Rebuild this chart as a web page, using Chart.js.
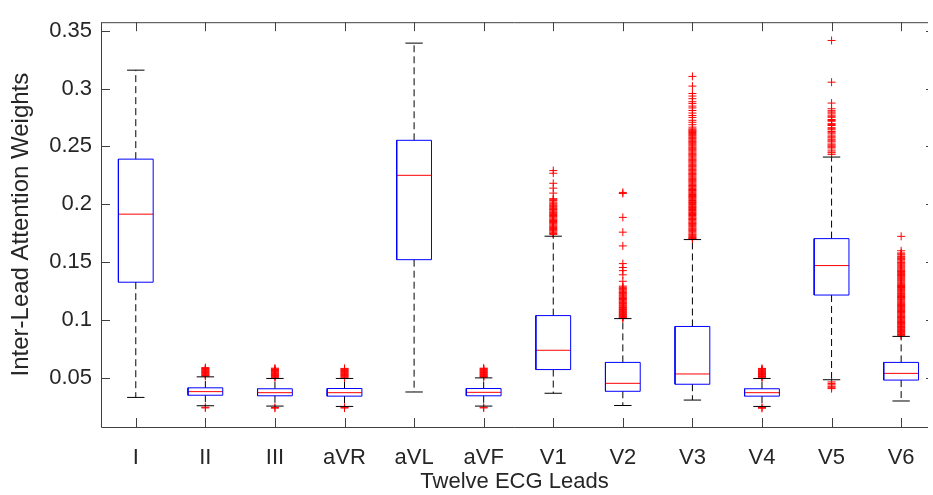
<!DOCTYPE html>
<html>
<head>
<meta charset="utf-8">
<script src="https://cdn.jsdelivr.net/npm/chart.js@4.4.1/dist/chart.umd.min.js"></script>
<style>
  body { margin: 0; background: #fff; }
  canvas { display: block; }
</style>
</head>
<body>
<canvas id="boxChart" width="933" height="495"></canvas>
<script>
// Leads and box statistics
const leads = ['I', 'II', 'III', 'aVR', 'aVL', 'aVF', 'V1', 'V2', 'V3', 'V4', 'V5', 'V6'];
const q1 = [0.1325, 0.0347, 0.0342, 0.0339, 0.152, 0.0342, 0.0569, 0.0381, 0.0442, 0.0339, 0.1214, 0.0478];
const medians = [0.1914, 0.0378, 0.0369, 0.0369, 0.225, 0.0372, 0.0736, 0.045, 0.0531, 0.0369, 0.1469, 0.0536];
const q3 = [0.239, 0.0411, 0.0403, 0.0405, 0.2553, 0.0405, 0.1036, 0.0631, 0.0942, 0.0403, 0.1702, 0.0631];
const whiskerLow = [0.0328, 0.0256, 0.0253, 0.025, 0.0375, 0.0253, 0.0364, 0.0258, 0.0305, 0.025, 0.0481, 0.0297];
const whiskerHigh = [0.316, 0.0506, 0.0492, 0.0492, 0.3394, 0.0497, 0.1723, 0.101, 0.1694, 0.0492, 0.2408, 0.0856];

const yTicks = [0.05, 0.1, 0.15, 0.2, 0.25, 0.3, 0.35];
const yTickLabels = ['0.05', '0.1', '0.15', '0.2', '0.25', '0.3', '0.35'];

// outliers per lead
const outI = [];
const outII = [0.0512, 0.0518, 0.0523, 0.0529, 0.0534, 0.0541, 0.0546, 0.0551, 0.0557, 0.0563, 0.0568, 0.0574, 0.0579, 0.0586, 0.0243, 0.0237];
const outIII = [0.0499, 0.0505, 0.0511, 0.0517, 0.0522, 0.0528, 0.0534, 0.0539, 0.0546, 0.0551, 0.0557, 0.0562, 0.0569, 0.0574, 0.0581, 0.0241, 0.0235];
const outAVR = [0.0498, 0.0504, 0.0511, 0.0516, 0.0521, 0.0527, 0.0533, 0.0539, 0.0545, 0.0551, 0.0556, 0.0562, 0.0568, 0.0573, 0.0579, 0.0242, 0.0236];
const outAVL = [];
const outAVF = [0.0503, 0.0509, 0.0514, 0.0519, 0.0526, 0.0531, 0.0537, 0.0543, 0.0548, 0.0554, 0.0559, 0.0565, 0.0571, 0.0576, 0.0581, 0.0243, 0.0237];
const outV1 = [0.2291, 0.2268, 0.2181, 0.2139, 0.2096, 0.2048, 0.2031, 0.2009, 0.1992, 0.1978, 0.1961, 0.1949, 0.1931, 0.1918,
  0.1902, 0.1889, 0.1871, 0.1858, 0.1843, 0.1829, 0.1811, 0.1797, 0.1782, 0.1768, 0.1751, 0.1739,
  0.2039, 0.2019, 0.2001, 0.1985, 0.1969, 0.1955, 0.1940, 0.1925, 0.1910, 0.1895, 0.1880, 0.1864, 0.1850, 0.1836,
  0.1820, 0.1804, 0.1789, 0.1775, 0.1759, 0.1745];
const outV2 = [0.2102, 0.2093, 0.1886, 0.1758, 0.1639, 0.1486, 0.1452, 0.1425, 0.1389, 0.1333, 0.1291, 0.1272, 0.1258, 0.1241,
  0.1229, 0.1213, 0.1198, 0.1184, 0.1169, 0.1153, 0.1142, 0.1128, 0.1113, 0.1101, 0.1089, 0.1076, 0.1064, 0.1052, 0.1041, 0.1029, 0.1018,
  0.1281, 0.1265, 0.1249, 0.1235, 0.1221, 0.1206, 0.1191, 0.1176, 0.1161, 0.1147, 0.1135, 0.1121, 0.1107, 0.1095,
  0.1082, 0.1070, 0.1058, 0.1046, 0.1035, 0.1023, 0.1013];
const outV3 = [0.3106, 0.3022, 0.2958, 0.2936, 0.2913, 0.2887, 0.2872, 0.2849, 0.2833, 0.2811, 0.2789, 0.2768, 0.2751, 0.2726,
  0.2709, 0.2688, 0.2667, 0.2652, 0.2636, 0.2621, 0.2602, 0.2583, 0.2567, 0.2548, 0.2532, 0.2514, 0.2495, 0.2479, 0.2462,
  0.2442, 0.2427, 0.2409, 0.2389, 0.2374, 0.2356, 0.2337, 0.2322, 0.2302, 0.2287, 0.2267, 0.2252, 0.2234, 0.2215, 0.2199,
  0.2182, 0.2162, 0.2147, 0.2127, 0.2112, 0.2094, 0.2075, 0.2059, 0.2042, 0.2022, 0.2007, 0.1987, 0.1972, 0.1954, 0.1935,
  0.1919, 0.1902, 0.1882, 0.1867, 0.1847, 0.1832, 0.1814, 0.1795, 0.1779, 0.1762, 0.1742, 0.1727, 0.1711, 0.1699,
  0.2644, 0.2628, 0.2611, 0.2593, 0.2575, 0.2557, 0.2541, 0.2523, 0.2505, 0.2487, 0.2471, 0.2452, 0.2434, 0.2418,
  0.2399, 0.2381, 0.2365, 0.2346, 0.2329, 0.2312, 0.2294, 0.2277, 0.2259, 0.2243, 0.2224, 0.2207, 0.2191, 0.2172,
  0.2155, 0.2137, 0.2119, 0.2103, 0.2084, 0.2067, 0.2051, 0.2032, 0.2015, 0.1997, 0.1979, 0.1962, 0.1945, 0.1927,
  0.1911, 0.1892, 0.1875, 0.1857, 0.1839, 0.1823, 0.1805, 0.1787, 0.1771, 0.1752, 0.1735, 0.1719, 0.1704];
const outV4 = [0.0498, 0.0505, 0.0509, 0.0516, 0.0522, 0.0527, 0.0534, 0.0538, 0.0545, 0.0551, 0.0556, 0.0563, 0.0567, 0.0574, 0.0579, 0.0241, 0.0234];
const outV5 = [0.3417, 0.3056, 0.2875, 0.2826, 0.2809, 0.2788, 0.2771, 0.2752, 0.2733, 0.2718, 0.2697, 0.2681, 0.2662, 0.2644,
  0.2629, 0.2608, 0.2591, 0.2573, 0.2558, 0.2539, 0.2521, 0.2503, 0.2487, 0.2452, 0.2431,
  0.2798, 0.2761, 0.2725, 0.2689, 0.2653, 0.2618, 0.2582, 0.2548, 0.2512, 0.2495, 0.2468, 0.2445,
  0.0462, 0.0449, 0.0437, 0.0424, 0.0412, 0.0404];
const outV6 = [0.1722, 0.1597, 0.1578, 0.1561, 0.1549, 0.1532, 0.1518, 0.1497, 0.1483, 0.1466, 0.1449, 0.1431, 0.1418, 0.1399,
  0.1384, 0.1368, 0.1351, 0.1336, 0.1319, 0.1303, 0.1288, 0.1272, 0.1255, 0.1241, 0.1226, 0.1209, 0.1193, 0.1178, 0.1163,
  0.1147, 0.1131, 0.1116, 0.1101, 0.1087, 0.1071, 0.1057, 0.1041, 0.1027, 0.1013, 0.0998, 0.0984, 0.0969, 0.0956, 0.0941,
  0.0927, 0.0914, 0.0899, 0.0886, 0.0872,
  0.1569, 0.1541, 0.1525, 0.1508, 0.1491, 0.1474, 0.1457, 0.1440, 0.1424, 0.1408, 0.1391, 0.1376, 0.1359, 0.1343,
  0.1327, 0.1311, 0.1296, 0.1279, 0.1263, 0.1248, 0.1233, 0.1217, 0.1201, 0.1186, 0.1171, 0.1155, 0.1139, 0.1123,
  0.1108, 0.1094, 0.1079, 0.1064, 0.1049, 0.1034, 0.1020, 0.1005, 0.0991, 0.0976, 0.0962, 0.0948, 0.0934, 0.0920,
  0.0906, 0.0892, 0.0879, 0.0865];
const outliers = [outI, outII, outIII, outAVR, outAVL, outAVF, outV1, outV2, outV3, outV4, outV5, outV6];

// Costruzione dei segmenti (box, mediana, baffi)
const boxPts = [], medPts = [], whiskPts = [], capPts = [], outPts = [];
leads.forEach((name, i) => {
  const c = i + 1;
  boxPts.push({x: c - 0.25, y: q1[i]}, {x: c + 0.25, y: q1[i]}, {x: c + 0.25, y: q3[i]},
              {x: c - 0.25, y: q3[i]}, {x: c - 0.25, y: q1[i]}, {x: c, y: null});
  medPts.push({x: c - 0.25, y: medians[i]}, {x: c + 0.25, y: medians[i]}, {x: c, y: null});
  whiskPts.push({x: c, y: q3[i]}, {x: c, y: whiskerHigh[i]}, {x: c, y: null},
                {x: c, y: q1[i]}, {x: c, y: whiskerLow[i]}, {x: c, y: null});
  capPts.push({x: c - 0.125, y: whiskerHigh[i]}, {x: c + 0.125, y: whiskerHigh[i]}, {x: c, y: null},
              {x: c - 0.125, y: whiskerLow[i]}, {x: c + 0.125, y: whiskerLow[i]}, {x: c, y: null});
  outliers[i].forEach(v => outPts.push({x: c, y: v}));
});

const textColor = '#262626';
const fontFamily = "'Liberation Sans', Arial, Helvetica, sans-serif";

// Assi in stile MATLAB: tacche verso l'interno, bordo superiore
const axesBox = {
  id: 'axesBox',
  afterDraw(chart) {
    const {ctx, chartArea: a, scales: {x, y}} = chart;
    ctx.save();
    ctx.strokeStyle = '#404040';
    ctx.lineWidth = 1;
    ctx.beginPath();
    ctx.moveTo(a.left + 0.5, a.top + 0.5);
    ctx.lineTo(a.left + 0.5, a.bottom + 0.5);
    ctx.lineTo(a.right, a.bottom + 0.5);
    ctx.moveTo(a.left, a.top + 0.5);
    ctx.lineTo(a.right, a.top + 0.5);
    y.ticks.forEach(t => {
      const py = Math.round(y.getPixelForValue(t.value)) + 0.5;
      ctx.moveTo(a.left, py); ctx.lineTo(a.left + 9, py);
      ctx.moveTo(a.right, py); ctx.lineTo(a.right - 2, py);
    });
    x.ticks.forEach(t => {
      const px = Math.round(x.getPixelForValue(t.value)) + 0.5;
      ctx.moveTo(px, a.bottom); ctx.lineTo(px, a.bottom - 9);
      ctx.moveTo(px, a.top); ctx.lineTo(px, a.top + 9);
    });
    ctx.stroke();
    ctx.restore();
  }
};

const lineSet = (data, color, dash) => ({
  data: data,
  showLine: true,
  spanGaps: false,
  borderColor: color,
  borderWidth: 1,
  borderDash: dash || [],
  pointRadius: 0,
  pointHoverRadius: 0,
  fill: false
});

const ctx = document.getElementById('boxChart').getContext('2d');
const chart = new Chart(ctx, {
  type: 'scatter',
  data: {
    datasets: [
      lineSet(boxPts, '#0000ff'),
      lineSet(medPts, '#ff0000'),
      lineSet(capPts, '#000000'),
      {
        data: outPts,
        pointStyle: 'cross',
        pointRadius: 4,
        pointHoverRadius: 4,
        borderColor: '#ff0000',
        backgroundColor: '#ff0000',
        borderWidth: 1
      },
      lineSet(whiskPts, '#000000', [7, 4])
    ]
  },
  options: {
    responsive: false,
    animation: false,
    devicePixelRatio: 1,
    events: [],
    layout: { padding: { top: 6, right: 0, left: 0, bottom: 0 } },
    plugins: {
      legend: { display: false },
      tooltip: { enabled: false }
    },
    scales: {
      x: {
        type: 'linear',
        min: 0.5,
        max: 12.386,
        grid: { display: false, drawTicks: false },
        border: { display: false },
        afterBuildTicks: scale => { scale.ticks = leads.map((l, i) => ({ value: i + 1 })); },
        afterFit: scale => { scale.height = 68; },
        ticks: {
          autoSkip: false,
          maxRotation: 0,
          minRotation: 0,
          padding: 18,
          color: textColor,
          font: { family: fontFamily, size: 22 },
          callback: (value, index) => leads[index]
        },
        title: {
          display: true,
          text: 'Twelve ECG Leads',
          color: textColor,
          font: { family: fontFamily, size: 22 },
          padding: { top: 0, bottom: 0 }
        }
      },
      y: {
        type: 'linear',
        min: 0.0072,
        max: 0.3575,
        grid: { display: false, drawTicks: false },
        border: { display: false },
        afterBuildTicks: scale => { scale.ticks = yTicks.map(v => ({ value: v })); },
        afterFit: scale => { scale.width = 101; },
        ticks: {
          padding: 9,
          color: textColor,
          font: { family: fontFamily, size: 22 },
          callback: (value, index) => yTickLabels[index]
        },
        title: {
          display: true,
          text: 'Inter-Lead Attention Weights',
          color: textColor,
          font: { family: fontFamily, size: 24 },
          padding: { top: 7, bottom: 0 }
        }
      }
    }
  },
  plugins: [axesBox]
});
</script>
</body>
</html>
